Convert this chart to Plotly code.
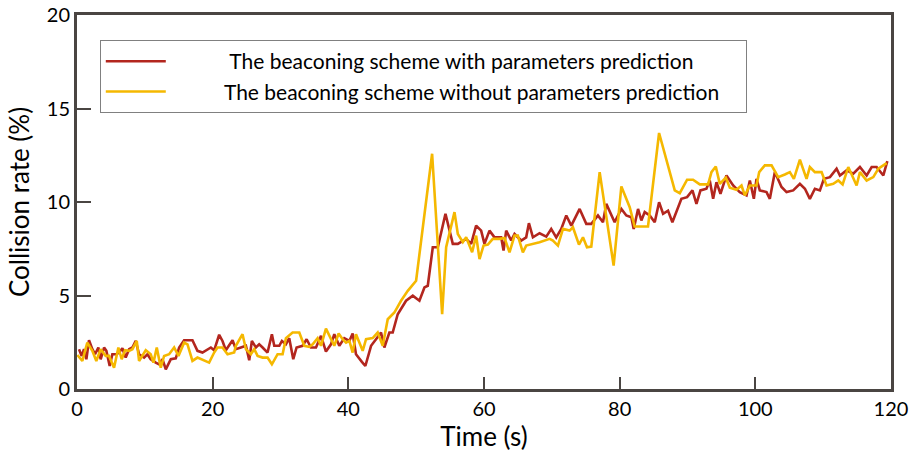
import plotly.graph_objects as go

# ---- data ----
t_with = [0.30, 0.69, 1.03, 1.38, 1.77, 2.26, 2.66, 3.15, 3.49, 3.99, 4.33, 4.82, 5.21, 5.81, 6.20,
          6.69, 7.18, 7.68, 8.17, 8.66, 9.15, 9.89, 10.38, 10.87, 11.61, 12.10, 12.60, 13.09, 13.83,
          14.56, 15.06, 15.79, 17.02, 17.76, 18.50, 19.24, 19.73, 20.22, 20.96, 21.45, 21.94, 22.93,
          23.42, 24.16, 24.90, 25.39, 25.78, 26.37, 26.86, 27.36, 28.09, 28.73, 29.08, 29.82, 30.21,
          30.80, 31.29, 31.88, 32.37, 33.26, 33.85, 34.49, 35.23, 35.97, 36.70, 37.44, 37.93, 38.67,
          39.41, 40.15, 40.64, 41.13, 41.62, 42.00, 42.51, 43.35, 44.08, 44.82, 45.31, 46.05, 46.54,
          47.28, 48.51, 49.50, 50.48, 51.22, 51.71, 52.45, 53.19, 54.32, 55.40, 56.14, 57.37, 58.11,
          58.84, 59.58, 60.07, 60.81, 61.55, 62.53, 62.88, 63.27, 64.01, 64.50, 65.49, 66.22, 66.62,
          67.21, 68.19, 69.18, 69.91, 70.65, 71.39, 72.13, 72.87, 74.10, 75.08, 75.82, 76.80, 77.54,
          78.03, 79.26, 80.25, 80.98, 81.72, 82.07, 82.71, 83.20, 83.69, 84.43, 85.17, 85.81, 86.40,
          87.13, 87.77, 89.10, 89.94, 90.73, 91.32, 91.91, 92.79, 93.28, 93.78, 94.27, 94.86, 95.74,
          96.73, 97.71, 98.70, 99.19, 99.78, 100.17, 100.66, 101.65, 102.14, 102.88, 103.86, 104.60,
          105.58, 106.57, 107.31, 108.04, 108.78, 109.52, 110.11, 111.00, 111.98, 112.47, 113.46,
          114.44, 115.42, 116.41, 117.15, 117.88, 118.87, 119.46]
rate_with = [2.13, 1.77, 2.13, 1.59, 2.61, 2.13, 1.86, 2.22, 1.59, 2.22, 2.04, 1.23, 1.86, 1.86, 1.95,
             2.18, 1.68, 2.13, 2.22, 2.57, 1.86, 1.68, 1.86, 1.59, 1.41, 1.32, 1.59, 1.05, 1.59,
             1.64, 2.22, 2.61, 2.61, 2.04, 1.95, 2.13, 2.22, 2.07, 2.90, 2.57, 2.07, 2.61,
             2.13, 2.22, 2.31, 1.54, 2.57, 2.22, 2.39, 2.22, 1.95, 2.93, 2.31, 2.31, 2.57,
             2.39, 2.72, 1.59, 2.22, 2.31, 2.66, 2.22, 2.22, 2.84, 2.00, 2.39, 2.93, 2.31,
             2.72, 2.57, 2.97, 1.86, 1.59, 1.45, 1.23, 2.31, 2.66, 3.02, 2.22, 3.02, 3.02,
             4.00, 4.72, 4.99, 4.72, 5.43, 5.52, 7.58, 7.58, 9.37, 7.76, 7.76, 8.03, 7.76,
             8.74, 8.47, 7.76, 8.47, 8.11, 8.11, 7.40, 8.47, 7.94, 8.29, 7.94, 8.11, 8.87,
             8.11, 8.33, 8.15, 8.56, 8.11, 8.56, 9.28, 8.74, 9.63, 8.83, 8.83, 9.28, 8.92,
             9.90, 8.92, 9.63, 9.28, 9.19, 8.56, 9.63, 9.01, 9.46, 9.28, 8.92, 9.99, 9.37,
             9.54, 8.92, 10.17, 10.26, 10.62, 9.90, 10.62, 10.71, 11.15, 10.17, 11.06, 10.44, 11.42,
             10.88, 10.53, 10.35, 11.15, 10.17, 11.24, 10.62, 10.53, 10.17, 11.60, 10.80, 10.53,
             10.62, 10.97, 10.71, 10.17, 10.71, 10.62, 11.24, 11.33, 11.78, 11.42, 11.69,
             11.51, 11.87, 11.42, 11.87, 11.87, 11.42, 12.19]

t_without = [0.05, 0.79, 1.52, 2.26, 2.85, 3.49, 4.23, 4.72, 5.46, 6.10, 6.59, 7.08, 7.68, 8.17, 8.81,
             9.15, 10.14, 10.87, 11.27, 11.76, 12.35, 12.84, 13.58, 14.32, 14.96, 15.79, 16.29, 17.02,
             17.76, 18.75, 19.48, 20.22, 20.71, 21.45, 22.19, 23.17, 23.42, 24.40, 24.90, 25.63, 26.13,
             26.62, 27.36, 28.09, 28.73, 29.57, 30.31, 30.80, 31.78, 32.77, 33.51, 34.24, 34.74, 35.47,
             35.97, 36.70, 37.44, 37.93, 38.57, 39.16, 39.66, 40.15, 40.64, 41.13, 42.12, 42.61, 43.59,
             44.33, 45.07, 45.81, 46.79, 47.77, 48.76, 49.99, 52.35, 53.83, 54.42, 55.65, 56.14, 56.88,
             57.37, 58.25, 58.84, 59.34, 59.93, 60.57, 61.30, 62.29, 63.03, 63.76, 64.50, 64.99, 65.73,
             66.22, 68.19, 69.67, 70.16, 70.90, 71.64, 72.62, 73.11, 74.00, 74.59, 75.18, 75.82, 77.05,
             79.11, 80.25, 81.48, 82.21, 84.18, 85.81, 88.12, 88.86, 89.94, 90.82, 91.81, 93.04, 93.53,
             94.17, 94.76, 95.65, 96.24, 97.22, 97.96, 98.45, 99.19, 100.17, 100.57, 101.40, 102.39,
             103.37, 104.35, 105.09, 105.68, 106.57, 107.55, 108.04, 108.78, 109.77, 110.50, 111.49,
             112.23, 112.87, 113.70, 114.93, 115.42, 116.41, 117.39, 118.13, 119.36]
rate_without = [1.82, 1.50, 2.48, 2.04, 1.50, 2.13, 1.77, 1.77, 1.14, 2.22, 1.59, 2.07, 2.04, 2.13, 2.57,
                1.50, 2.07, 1.86, 1.41, 2.22, 1.14, 1.77, 1.86, 2.22, 1.77, 2.48, 2.39, 1.50,
                1.68, 1.50, 1.41, 1.95, 2.22, 2.22, 1.86, 1.95, 2.31, 2.93, 2.13, 1.86, 2.13,
                1.77, 1.68, 1.68, 1.32, 1.86, 1.86, 2.72, 3.02, 3.02, 2.31, 2.25, 2.39, 2.72,
                2.31, 3.23, 2.66, 2.31, 2.97, 2.66, 2.48, 2.57, 1.95, 2.93, 2.04, 2.66, 2.72,
                3.02, 2.31, 3.73, 4.09, 4.72, 5.25, 5.79, 12.58, 4.00, 7.58, 9.46, 8.29, 7.85,
                8.11, 7.31, 8.20, 6.95, 7.67, 7.72, 8.03, 8.03, 8.08, 7.31, 8.20, 8.20, 7.31,
                7.67, 7.85, 8.03, 7.94, 7.67, 8.56, 8.47, 8.65, 7.72, 8.11, 7.58, 7.62, 11.60,
                6.60, 10.83, 9.72, 8.69, 8.69, 13.69, 10.62, 10.47, 11.19, 11.19, 10.94, 10.94, 11.60,
                11.90, 10.97, 11.30, 10.76, 10.65, 10.88, 10.35, 10.88, 10.88, 11.60, 11.96, 11.96,
                11.33, 11.47, 11.60, 11.24, 12.26, 11.24, 11.87, 11.60, 11.60, 10.88, 10.97,
                11.15, 10.94, 11.87, 10.88, 11.60, 11.15, 11.33, 11.78, 12.08]

name_with = "The beaconing scheme with parameters prediction"
name_without = "The beaconing scheme without parameters prediction"

x_ticks = [0, 20, 40, 60, 80, 100, 120]
y_ticks = [0, 5, 10, 15, 20]

FONT = "Lato, 'Open Sans', sans-serif"
FRAME = "#4a4542"
NB = "\u00a0"

fig = go.Figure()
fig.add_trace(go.Scatter(x=t_with, y=rate_with, mode="lines",
                         name=NB * 11 + name_with + NB * 4,
                         line=dict(color="#b3261e", width=2.6)))
fig.add_trace(go.Scatter(x=t_without, y=rate_without, mode="lines",
                         name=NB * 10 + name_without + NB * 4,
                         line=dict(color="#f5b800", width=2.6)))

fig.update_layout(
    width=917, height=452,
    margin=dict(l=77, r=26, t=15, b=63),
    paper_bgcolor="white", plot_bgcolor="white",
    font=dict(family=FONT, color="black", size=20),
    showlegend=True,
    legend=dict(x=0.028, y=0.933, xanchor="left", yanchor="top",
                bgcolor="white", bordercolor="#808080", borderwidth=1,
                font=dict(size=21, family=FONT), tracegroupgap=0,
                itemwidth=60),
    xaxis=dict(range=[0, 120], tickvals=x_ticks, ticks="inside", ticklen=12, tickwidth=2,
               tickcolor=FRAME, showline=True, linecolor=FRAME, linewidth=3, mirror=True,
               showgrid=False, zeroline=False, tickfont=dict(size=20), automargin=False,
               title=dict(text="Time (s)", font=dict(size=26), standoff=4)),
    yaxis=dict(range=[0, 20], tickvals=y_ticks, ticks="inside", ticklen=14, tickwidth=2,
               tickcolor=FRAME, showline=True, linecolor=FRAME, linewidth=3, mirror=True,
               showgrid=False, zeroline=False, tickfont=dict(size=20), automargin=False,
               title=dict(text="Collision rate (%)", font=dict(size=26), standoff=10)),
)

fig.write_html("out.html")
